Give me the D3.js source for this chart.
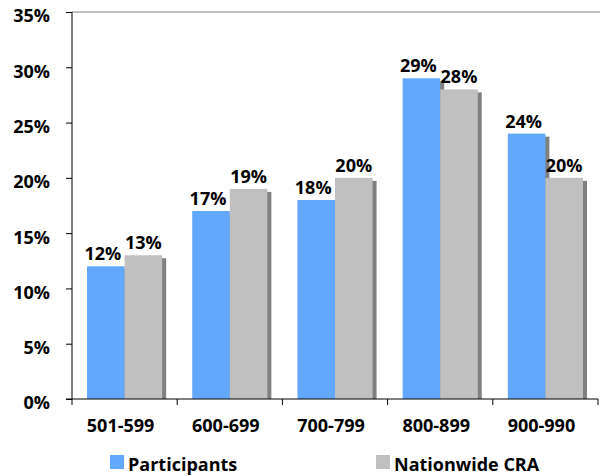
<!DOCTYPE html>
<html>
<head>
<meta charset="utf-8">
<script src="https://cdn.jsdelivr.net/npm/d3@7"></script>
<style>
  html, body { margin: 0; padding: 0; background: #fff; }
  svg { display: block; }
  text { font-family: "Open Sans", "DejaVu Sans", sans-serif; font-weight: 700; fill: #000; }
</style>
</head>
<body>
<svg id="chart" width="600" height="476"></svg>
<script>
// Score bands and the share of each group falling in them (percent)
const categories = ["501-599", "600-699", "700-799", "800-899", "900-990"];
const participants = [12, 17, 18, 29, 24];
const nationwide = [13, 19, 20, 28, 20];
const seriesNames = ["Participants", "Nationwide CRA"];
const yTicks = [0, 5, 10, 15, 20, 25, 30, 35];

const colors = { "Participants": "#62a8ff", "Nationwide CRA": "#c0c0c0" };
const shadowColor = "#808080";
const fontSize = 18;

const svg = d3.select("#chart");
const margin = { left: 72, right: 2, top: 12, bottom: 77 };
const W = 600, H = 476;
const x0 = margin.left, x1 = W - margin.right;
const yBottom = H - margin.bottom;

const x = d3.scaleBand().domain(categories).range([x0, x1]).paddingInner(0).paddingOuter(0);
const inner = d3.scaleBand().domain(seriesNames).range([0, x.bandwidth()]).paddingOuter(0.4).paddingInner(0);
const y = d3.scaleLinear().domain([0, 35]).range([yBottom, margin.top]);

const rows = categories.map((c, i) => ({ cat: c, values: [
  { name: seriesNames[0], v: participants[i] },
  { name: seriesNames[1], v: nationwide[i] }
]}));

// top border of the plot area
svg.append("line")
  .attr("x1", x0).attr("x2", W).attr("y1", y(35)).attr("y2", y(35))
  .attr("stroke", "#808080").attr("stroke-width", 1);

const groups = svg.append("g").selectAll("g").data(rows).join("g")
  .attr("transform", d => `translate(${x(d.cat)},0)`);

// bars with a drop shadow offset down and to the right
groups.each(function(d) {
  const g = d3.select(this);
  d.values.forEach(s => {
    g.append("rect")
      .attr("x", inner(s.name) + 4).attr("y", y(s.v) + 3)
      .attr("width", inner.bandwidth()).attr("height", yBottom - y(s.v) - 3)
      .attr("fill", shadowColor);
    g.append("rect")
      .attr("x", inner(s.name)).attr("y", y(s.v))
      .attr("width", inner.bandwidth()).attr("height", yBottom - y(s.v))
      .attr("fill", colors[s.name]);
  });
  d.values.forEach((s, i) => {
    g.append("text")
      .attr("x", inner(s.name) + inner.bandwidth() / 2 - (i === 0 ? 3 : 0))
      .attr("y", y(s.v) - 6)
      .attr("text-anchor", "middle")
      .attr("font-size", fontSize)
      .text(s.v + "%");
  });
});

// y axis
const yAxis = d3.axisLeft(y).tickValues(yTicks).tickSize(6).tickPadding(16).tickFormat(d => d + "%");
const gy = svg.append("g").attr("transform", `translate(${x0},0)`).call(yAxis);
gy.select(".domain").attr("stroke", "#000").attr("d", `M0,${yBottom}V${margin.top}`);
gy.selectAll(".tick line").attr("stroke", "#000");
gy.selectAll(".tick text").attr("font-size", fontSize).attr("font-family", null).attr("fill", "#000")
  .attr("dy", "0.55em");

// x axis with ticks at band boundaries
const gx = svg.append("g").attr("transform", `translate(0,${yBottom})`);
gx.append("line").attr("x1", x0 - 6).attr("x2", x1).attr("y1", 0).attr("y2", 0).attr("stroke", "#000");
const bounds = categories.map(c => x(c)).concat([x1]);
gx.selectAll("line.tk").data(bounds).join("line").attr("class", "tk")
  .attr("x1", d => d).attr("x2", d => d).attr("y1", 0).attr("y2", 6).attr("stroke", "#000");
gx.selectAll("text").data(categories).join("text")
  .attr("x", d => x(d) + x.bandwidth() / 2 - 4).attr("y", 33)
  .attr("text-anchor", "middle").attr("font-size", fontSize).text(d => d);

// legend
const legendPos = [110, 376];
const lg = svg.append("g").selectAll("g").data(seriesNames).join("g")
  .attr("transform", (d, i) => `translate(${legendPos[i]},455)`);
lg.append("rect").attr("width", 14).attr("height", 14).attr("fill", d => colors[d]);
lg.append("text").attr("x", 18).attr("y", 16).attr("font-size", fontSize).text(d => d);
</script>
</body>
</html>
